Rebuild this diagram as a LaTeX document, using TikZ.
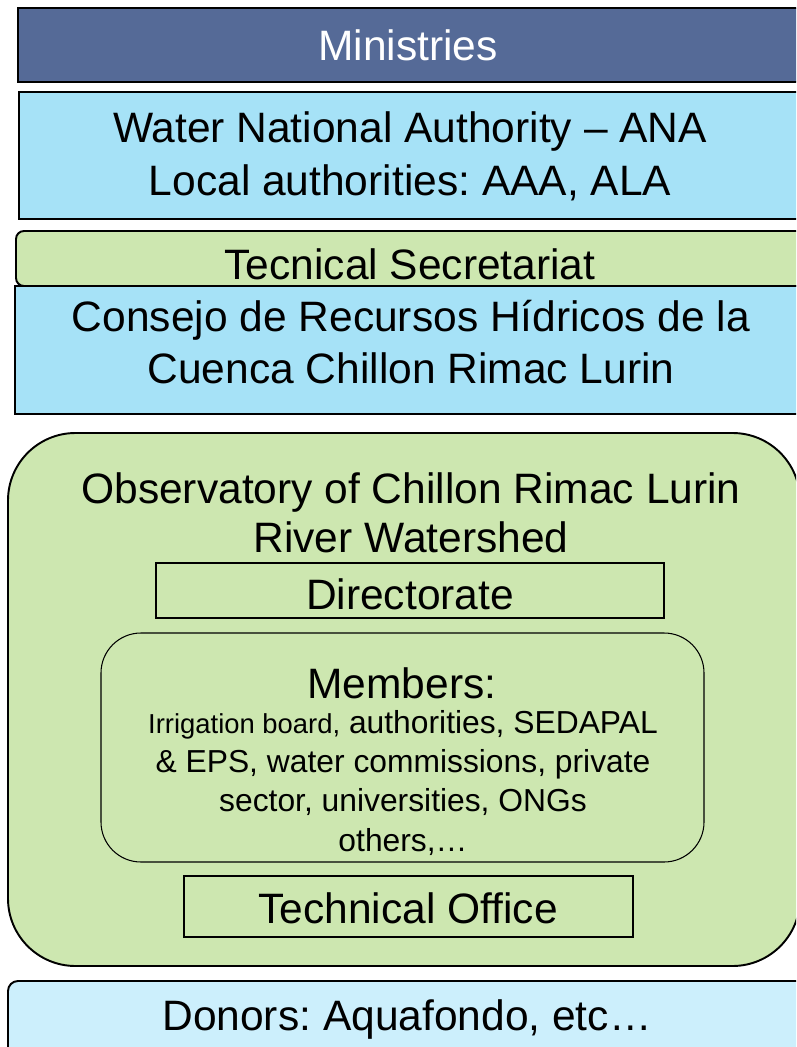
\documentclass[tikz,border=0pt]{standalone}
\usepackage{fontspec}
\setmainfont{Liberation Sans}
\usetikzlibrary{positioning}
\definecolor{ministryblue}{RGB}{85,106,151}
\definecolor{authorityblue}{RGB}{166,226,247}
\definecolor{donorblue}{RGB}{204,239,252}
\definecolor{leafgreen}{RGB}{205,231,176}
\frenchspacing

\begin{document}
\begin{tikzpicture}[x=0.02cm,y=-0.02cm,
    bigtext/.style={inner sep=0pt, align=center, font=\fontsize{24.2pt}{30pt}\selectfont},
    smalltext/.style={inner sep=0pt, align=center, font=\fontsize{18.1pt}{22.2pt}\selectfont},
    outerbox/.style={draw=black, line width=1.1pt},
    innerbox/.style={draw=black, line width=0.6pt}]
    \useasboundingbox (0,0) rectangle (796,1047);
    \clip (0,0) rectangle (796,1047);

    % Ministries
    \draw[outerbox, fill=ministryblue] (18,8) rectangle (812,82);
    \node[bigtext, text=white] (ministries) at (408,45) {Ministries};

    % ANA
    \draw[outerbox, fill=authorityblue] (19,92) rectangle (812,219);
    \node[bigtext] (ana) at (410,156) {Water National Authority -- ANA\\Local authorities: AAA, ALA};

    % Secretariat and Consejo
    \draw[outerbox, fill=leafgreen, rounded corners=0.16cm] (16,231) rectangle (830,286);
    \draw[outerbox, fill=authorityblue] (15,286) rectangle (812,414);
    \node[bigtext] (secretariat) at (410,264) {Tecnical Secretariat};
    \node[bigtext] (consejo) at (411,342) {Consejo de Recursos Hídricos de la\\Cuenca Chillon Rimac Lurin};

    % Observatory
    \draw[outerbox, fill=leafgreen, rounded corners=1.35cm] (8,433) rectangle (800,966);
    \node[bigtext, font=\fontsize{24.2pt}{27.9pt}\selectfont] (observatory) at (411,513) {Observatory of Chillon Rimac Lurin\\River Watershed};

    \draw[innerbox, fill=leafgreen] (156,563) rectangle (664,618);
    \node[bigtext] (directorate) at (410,594) {Directorate};

    \draw[innerbox, fill=leafgreen, rounded corners=0.8cm] (101,633) rectangle (704,862);
    \node[bigtext] (members) at (402,683) {Members:};
    \node[smalltext] (memberlist) at (403,783) {{\fontsize{15.6pt}{22.2pt}\selectfont Irrigation board,} authorities, SEDAPAL\\\& EPS, water commissions, private\\sector, universities, ONGs\\others,\ldots};

    \draw[innerbox, fill=leafgreen] (184,876) rectangle (633,937);
    \node[bigtext] (office) at (408,908) {Technical Office};

    % Donors
    \draw[outerbox, fill=donorblue, rounded corners=0.2cm] (8,981) rectangle (830,1070);
    \node[bigtext] (donors) at (407,1019) {Donors: Aquafondo, etc\ldots};
\end{tikzpicture}
\end{document}
